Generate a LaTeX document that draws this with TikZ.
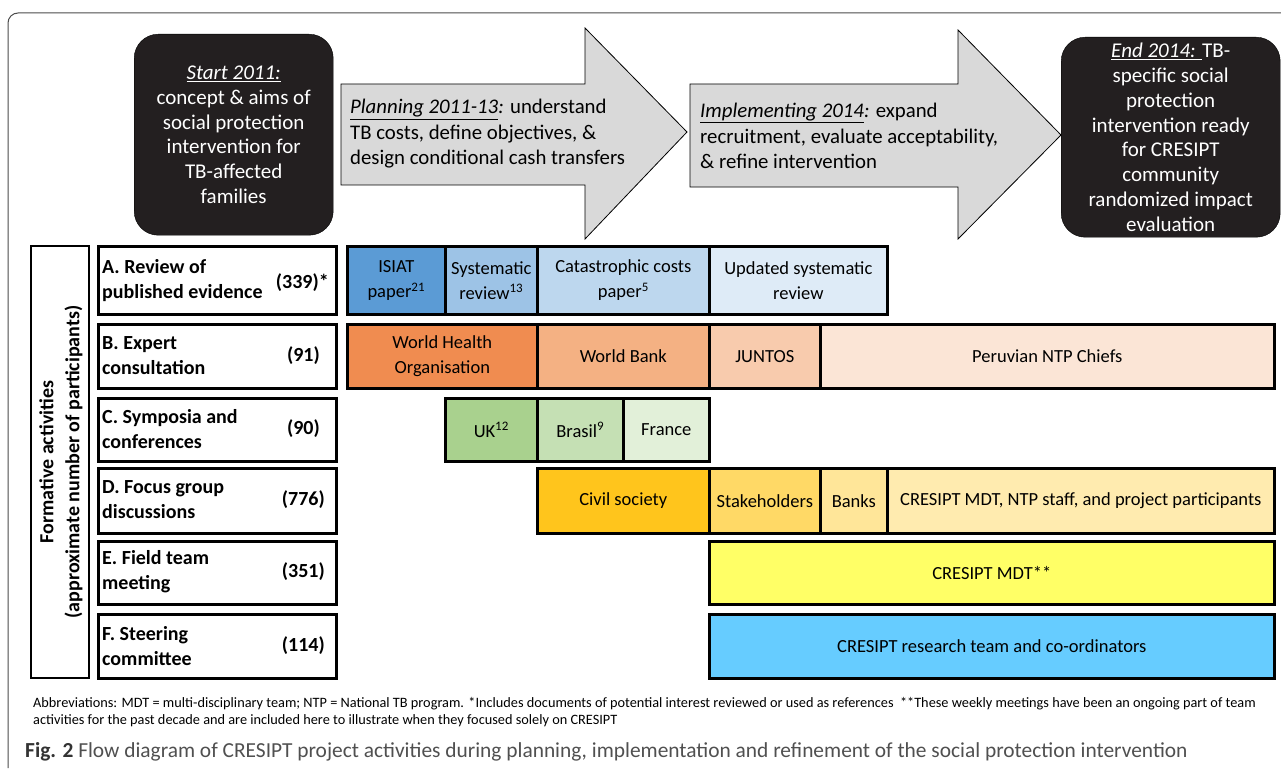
\documentclass[tikz,border=0pt]{standalone}
\usepackage{fontspec}
\setmainfont{Carlito}
\definecolor{isiat}{HTML}{5B9BD5}
\definecolor{sysrev}{HTML}{9DC3E6}
\definecolor{catas}{HTML}{BDD7EE}
\definecolor{updrev}{HTML}{DEEBF7}
\definecolor{who}{HTML}{F08C50}
\definecolor{wbank}{HTML}{F4B183}
\definecolor{juntos}{HTML}{F8CBAD}
\definecolor{peru}{HTML}{FBE5D6}
\definecolor{uk}{HTML}{A9D18E}
\definecolor{brasil}{HTML}{C5E0B4}
\definecolor{france}{HTML}{E2F0D9}
\definecolor{civil}{HTML}{FFC51C}
\definecolor{stake}{HTML}{FFD966}
\definecolor{banks}{HTML}{FFE699}
\definecolor{mdtstaff}{HTML}{FFEBAF}
\definecolor{mdtyellow}{HTML}{FFFF66}
\definecolor{resblue}{HTML}{66CCFF}
\definecolor{arrowgray}{HTML}{D9D9D9}
\definecolor{darkfill}{HTML}{231F20}
\definecolor{capgray}{HTML}{505050}
\newcommand\cellbar[7]{\node[cellbox, fill=#6, minimum width={#3-#2}, minimum height={#5-#4}, anchor=north west] (#1) at (#2,#4) {#7};}
\begin{document}
\begin{tikzpicture}[x=1pt,y=-1pt,
  cellbox/.style={draw, line width=2.6pt, inner sep=0pt, align=center, font=\fontsize{18.5}{25}\selectfont},
  labelbox/.style={draw, line width=2.6pt, inner sep=0pt, anchor=north west},
  labeltext/.style={inner sep=0pt, align=left, font=\bfseries\fontsize{20}{25}\selectfont},
  darkbox/.style={draw=black, fill=darkfill, rounded corners=24pt, text=white, align=center, inner sep=0pt, font=\fontsize{21}{24.8}\selectfont},
  phasearrow/.style={draw=black, line width=0.8pt, fill=arrowgray},
  phasetext/.style={inner sep=0pt, align=left, anchor=west, font=\fontsize{20.8}{25.5}\selectfont}
]
\useasboundingbox (0,0) rectangle (1281,770);
\fill[white] (0,0) rectangle (1281,770);
% outer frame
\draw[line width=1pt, black!70, rounded corners=10pt] (8,768) -- (8,13) -- (1281,13);

% start and end boxes
\node[darkbox, minimum width=199, minimum height=201, anchor=north west] (start) at (134,34)
  {\underline{\textit{Start 2011:}}\\concept \& aims of\\social protection\\intervention for\\TB-affected\\families};
\node[darkbox, minimum width=219, minimum height=200, anchor=north west] (end) at (1061,37)
  {\underline{\textit{End 2014: }}TB-\\specific social\\protection\\intervention ready\\for CRESIPT\\community\\randomized impact\\evaluation};

% phase arrows
\draw[phasearrow] (341,84) -- (585,84) -- (585,28) -- (687,132) -- (585,239) -- (585,185) -- (341,185) -- cycle;
\draw[phasearrow] (690,84) -- (958,84) -- (958,30) -- (1061,135) -- (958,239) -- (958,187) -- (690,187) -- cycle;
\node[phasetext] (plan) at (350,134) {\underline{\textit{Planning 2011-13}}\textit{:} understand\\TB costs, define objectives, \&\\design conditional cash transfers};
\node[phasetext] (impl) at (700,136) {\underline{\textit{Implementing 2014}}\textit{:} expand\\recruitment, evaluate acceptability,\\\& refine intervention};

% vertical label
\node[draw, line width=2pt, minimum width=58, minimum height=432, anchor=north west] (formbox) at (30,245) {};
\node[rotate=90, align=center, inner sep=0pt, font=\bfseries\fontsize{20}{26}\selectfont] (formtext) at ([xshift=1pt]formbox.center)
  {Formative activities\\(approximate number of participants)};

% row label boxes
\node[labelbox, minimum width=238, minimum height=68] (rA) at (97,245) {};
\node[labelbox, minimum width=238, minimum height=64] (rB) at (97,323) {};
\node[labelbox, minimum width=238, minimum height=63] (rC) at (97,397) {};
\node[labelbox, minimum width=238, minimum height=65] (rD) at (97,467) {};
\node[labelbox, minimum width=238, minimum height=63] (rE) at (97,540) {};
\node[labelbox, minimum width=238, minimum height=64] (rF) at (97,613) {};

\node[labeltext, anchor=west] (tA) at (102,281) {A. Review of\\published evidence};
\node[labeltext, anchor=east] (nA) at (329,283) {(339)*};
\node[labeltext, anchor=west] (tB) at (102,356) {B. Expert\\consultation};
\node[labeltext, anchor=east] (nB) at (320,356) {(91)};
\node[labeltext, anchor=west] (tC) at (102,429) {C. Symposia and\\conferences};
\node[labeltext, anchor=east] (nC) at (320,429) {(90)};
\node[labeltext, anchor=west] (tD) at (102,500) {D. Focus group\\discussions};
\node[labeltext, anchor=east] (nD) at (325,500) {(776)};
\node[labeltext, anchor=west] (tE) at (102,572) {E. Field team\\meeting};
\node[labeltext, anchor=east] (nE) at (325,572) {(351)};
\node[labeltext, anchor=west] (tF) at (102,646) {F. Steering\\committee};
\node[labeltext, anchor=east] (nF) at (325,646) {(114)};

% row A
\cellbar{a1}{346}{444}{245}{313}{isiat}{ISIAT\\paper\textsuperscript{21}}
\cellbar{a2}{444}{536}{245}{313}{sysrev}{Systematic\\review\textsuperscript{13}}
\cellbar{a3}{536}{708}{245}{313}{catas}{Catastrophic costs\\paper\textsuperscript{5}}
\cellbar{a4}{708}{886}{245}{313}{updrev}{Updated systematic\\review}
% row B
\cellbar{b1}{346}{536}{323}{387}{who}{World Health\\Organisation}
\cellbar{b2}{536}{708}{323}{387}{wbank}{World Bank}
\cellbar{b3}{708}{819}{323}{387}{juntos}{JUNTOS}
\cellbar{b4}{819}{1273}{323}{387}{peru}{Peruvian NTP Chiefs}
% row C
\cellbar{c1}{444}{536}{397}{460}{uk}{UK\textsuperscript{12}}
\cellbar{c2}{536}{622}{397}{460}{brasil}{Brasil\textsuperscript{9}}
\cellbar{c3}{622}{708}{397}{460}{france}{France}
% row D
\cellbar{d1}{536}{708}{467}{532}{civil}{Civil society}
\cellbar{d2}{708}{819}{467}{532}{stake}{Stakeholders}
\cellbar{d3}{819}{886}{467}{532}{banks}{Banks}
\cellbar{d4}{886}{1273}{467}{532}{mdtstaff}{CRESIPT MDT, NTP staff, and project participants}
% row E
\cellbar{e1}{708}{1273}{540}{603}{mdtyellow}{CRESIPT MDT**}
% row F
\cellbar{f1}{708}{1273}{613}{677}{resblue}{CRESIPT research team and co-ordinators}

% footnote
\node[anchor=west, inner sep=0pt, font=\fontsize{14.3}{17}\selectfont] (abbr1) at (33,704)
  {Abbreviations: MDT = multi-disciplinary team; NTP = National TB program. *Includes documents of potential interest reviewed or used as references\ \ **These weekly meetings have been an ongoing part of team};
\node[anchor=west, inner sep=0pt, font=\fontsize{14.3}{17}\selectfont] (abbr2) at (33,721)
  {activities for the past decade and are included here to illustrate when they focused solely on CRESIPT};
% caption
\node[anchor=west, inner sep=0pt, font=\fontsize{21.4}{24}\selectfont, text=capgray] (caption) at (25,752)
  {\textcolor{black!80}{\textbf{Fig. 2}} Flow diagram of CRESIPT project activities during planning, implementation and refinement of the social protection intervention};
\end{tikzpicture}
\end{document}
